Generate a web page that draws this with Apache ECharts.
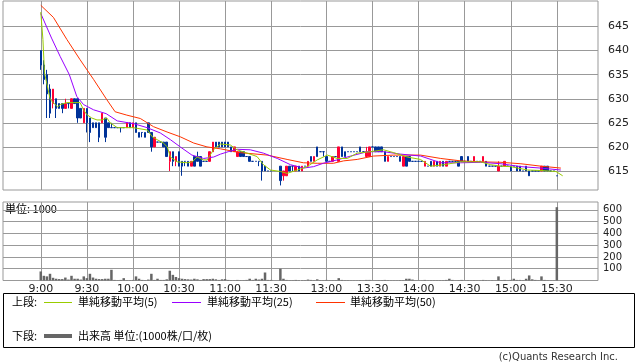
<!DOCTYPE html>
<html><head><meta charset="utf-8">
<script src="https://cdn.jsdelivr.net/npm/echarts@6/dist/echarts.min.js"></script>
<style>html,body{margin:0;padding:0;background:#fff}#c{width:638px;height:362px}</style>
</head><body><div id="c"></div>
<script>
// ---- data (2-minute slots; 9:00 = slot 0, 12:30 = slot 78) ----
const timeLabels = ['9:00','9:30','10:00','10:30','11:00','11:30','13:00','13:30','14:00','14:30','15:00','15:30'];
const timeLabelSlots = [0,15,30,45,60,75,93,108,123,138,153,168];
const priceTicks = [615,620,625,630,635,640,645];
const volumeTicks = [100,200,300,400,500,600];
const amStartSlot = 0;
const pmStartSlot = 78;
// [open, close, low, high]
const candlesAM = [
[640,637,636,640],[637,634,633,638],[635,631,626,636],[632,627,626,633],[629,632,628,632],
[630,628,626,630],[629,628,628,629],[629,628,627,629],[628,629,628,630],[629,629,628,629],
[628,630,628,630],[630,629,629,630],[630,626,625,630],[628,626,626,628],[625,628,625,628],
[628,625,623,628],[626,623,621,626],[625,624,624,625],[625,624,624,625],[625,622,621,625],
[625,627,625,627],[626,622,621,626],[625,624,624,625],[624,624,624,625],[624,624,624,624],
[624,624,624,624],[624,624,623,624],[624,624,624,624],[624,625,624,625],[625,624,624,625],
[624,625,624,625],[625,623,623,625],[623,622,622,623],[623,623,622,623],[623,622,622,623],
[625,623,623,625],[623,620,619,623],[620,622,620,622],[621,621,621,621],[621,621,621,621],
[621,620,620,621],[621,618,618,621],[617,619,615,619],[619,617,616,619],[617,618,616,618],
[619,616,616,619],[617,616,614,617],[617,617,616,617],[617,616,616,617],[616,617,616,617],
[618,616,616,618],[618,617,617,619],[618,616,616,618],[617,617,617,617],[617,617,617,617],
[617,619,617,619],[619,621,619,621],[621,620,620,621],[621,620,620,621],[621,620,620,621],
[621,620,620,621],[621,620,620,621],[620,619,619,620],[619,620,619,620],[618,619,618,619],
[619,618,618,619],[619,618,618,619],[618,618,618,618],[618,617,617,618],[617,617,617,617],
[617,617,617,617],[617,617,616,617],[617,615,613,617],[616,615,615,616],[615,615,615,615],
[615,615,615,615]
];
const candlesPM = [
[616,613,612,616],[614,615,613,615],[614,616,614,616],[616,615,615,616],[616,616,615,616],
[615,616,615,616],[616,615,615,616],[615,616,615,616],[616,616,616,616],[616,617,616,617],
[618,617,617,618],[617,618,617,618],[620,618,618,620],[619,619,619,619],[619,619,618,619],
[618,617,617,618],[617,617,617,617],[617,618,617,618],[618,618,618,618],[617,620,617,620],
[620,618,618,620],[619,618,618,619],[619,619,619,619],[619,619,619,619],[619,619,619,619],
[619,619,619,619],[620,619,619,620],[619,619,619,619],[618,619,618,620],[618,620,618,620],
[620,620,620,620],[620,619,619,620],[620,619,619,620],[620,619,619,620],[619,617,617,619],
[617,618,617,618],[618,618,618,618],[618,618,618,618],[618,618,618,618],[618,617,617,618],
[616,618,616,618],[618,616,616,618],[618,617,617,618],[617,617,617,617],[617,617,617,617],
[617,617,617,617],[617,617,617,617],[616,617,616,617],[616,616,616,616],[617,616,616,617],
[616,617,616,617],[617,616,616,617],[616,617,616,617],[617,616,616,617],[616,617,616,617],
[617,617,617,617],[617,617,617,617],[617,617,617,617],[617,616,616,617],[618,617,617,618],
[617,617,617,617],[618,617,617,618],[617,617,617,617],[617,618,617,618],[617,617,617,617],
[617,617,617,617],[617,618,617,618],[617,616,616,617],[616,616,616,616],[616,616,616,616],
[616,616,616,616],[615,616,615,617],[616,616,616,616],[616,617,616,617],[616,616,616,616],
[616,615,615,616],[616,616,616,616],[616,615,615,616],[616,615,615,616],[615,615,615,615],
[616,615,615,616],[615,614,614,615],[615,615,615,615],[615,615,615,615],[615,615,615,615],
[615,616,615,616],[616,615,615,616],[616,615,615,616],[615,615,615,615],[615,615,615,615],
[614,614,614,614]
];
// volume in 1000 shares
const volumeAM = [77,40,35,57,23,15,12,12,25,8, 40,15,15,8,35,20,57,25,15,12,
 12,15,15,91,5,3,5,20,3,3, 5,35,15,5,3,8,57,5,15,5, 5,10,83,48,30,20,15,12,10,8,
 15,10,5,12,12,12,15,10,5,10, 12,5,3,3,5,3,3,5,15,5, 15,8,15,68,5,5];
const volumePM = [100,15,5,3,3,5,3,3,3,8, 5,3,10,3,3,5,3,3,3,20, 5,3,3,2,2,2,3,2,5,5,
 2,2,3,3,5,3,2,2,2,3, 3,15,15,8,2,2,2,5,2,3, 3,3,3,3,5,15,5,2,3,5,
 2,3,2,3,2,2,5,3,2,3, 2,35,3,5,2,5,15,5,5,3, 15,43,10,5,3,35,5,3,2,2, 623];
// moving averages [slot, price]
const ma5 = [[0,648],[0.7,642.3],[1.2,635.4],[2.4,631.9],[3.1,629.8],[5.5,628.3],[6.4,628.8],[8.5,629.2],[12.8,629.2],[13.9,627.7],[15,626.7],[16.6,626.0],[18.3,625.6],[19.9,625.6],[21.5,626.0],[22.6,625.0],[24.9,624.0],[30.1,624.0],[34.7,623.5],[36.3,622.1],[37.9,621.5],[39.9,620.8],[41.2,620.0],[42.2,617.9],[44.4,616.9],[47.7,616.7],[49.3,616.9],[50.9,617.9],[52.9,617.3],[54.2,617.3],[56.2,619.4],[58.5,620.6],[61.7,620.4],[63.9,619.4],[67.2,618.7],[70.4,618.0],[72.5,616.3],[74.8,615.2],[78,614.9],[80.2,614.5],[83.5,615.2],[86.7,615.9],[90,617.3],[93.3,618.3],[96.5,617.6],[99.8,617.6],[103,618.7],[107.3,619.0],[111.6,619.4],[114.9,618.8],[119.3,617.9],[123.6,617.4],[126.9,616.0],[131.2,616.3],[136.7,616.9],[143.2,616.9],[146.5,616.3],[149.8,616.0],[153,615.9],[158.5,615.2],[162.8,615.1],[167.7,614.9],[169.9,614.0]];
const ma25 = [[0,647.7],[3.5,642.6],[6.3,638.8],[9.3,635],[11.7,630.5],[13.9,628.8],[17.2,627.7],[21.3,626.9],[24.9,625.4],[30.4,624.8],[34.6,624.0],[38.9,622.9],[42.2,621.5],[45.4,620.0],[49.2,618.3],[53,617.6],[56.3,617.9],[58.5,618.5],[61,619.0],[64,619.5],[68.2,619.4],[72.5,618.7],[77,617.6],[81.3,616.3],[85.5,615.6],[88.8,615.9],[92,616.6],[96.5,617.3],[100.9,618.1],[106.3,619.0],[111.6,619.0],[117.2,618.5],[123.7,618.1],[130.2,616.7],[136.7,616.7],[143.2,616.8],[149.8,616.5],[156.3,615.9],[162.8,615.6],[169.3,615.2]];
const ma50 = [[0,649.4],[4.1,646.9],[8.5,642.3],[12.8,638.1],[17.2,634.0],[21.5,629.8],[24.2,627.3],[28,626.6],[32.4,625.9],[36.7,624.2],[41.1,623.1],[45.4,622.1],[49.8,620.8],[54.1,620.0],[58.5,619.6],[65,618.8],[73.7,618.3],[80.2,617.4],[85.5,616.7],[90,616.6],[95.3,616.6],[98.6,617.1],[103,617.4],[108.3,618.1],[114.9,618.3],[123.6,618.3],[130.2,617.6],[136.7,617.1],[143.2,616.9],[149.8,616.8],[156.3,616.5],[162.8,616.0],[169.3,615.6]];

// ---- build series data ----
const candleData = [];
candlesAM.forEach((c, i) => candleData.push([amStartSlot + i, c[0], c[1], c[2], c[3]]));
candlesPM.forEach((c, i) => candleData.push([pmStartSlot + i, c[0], c[1], c[2], c[3]]));
const volData = [];
volumeAM.forEach((v, i) => volData.push([amStartSlot + i, v]));
volumePM.forEach((v, i) => volData.push([pmStartSlot + i, v]));

const UP = '#ff0033', DOWN = '#003399', GRIDC = '#999999';
const FONT = 'DejaVu Sans, Noto Sans CJK JP, sans-serif';
const JFONT = 'Noto Sans CJK JP, sans-serif';
const XMIN = -12.3, XMAX = 181.4;

function xAxisBase(gi, showLabel) {
  return {
    type: 'value', gridIndex: gi, min: XMIN, max: XMAX,
    axisLine: { show: false },
    axisTick: { show: false, customValues: timeLabelSlots },
    axisLabel: { show: showLabel, customValues: timeLabelSlots, margin: 3, fontSize: 11, color: '#222', fontFamily: FONT,
      formatter: v => { const k = timeLabelSlots.indexOf(Math.round(v)); return k >= 0 ? timeLabels[k] : ''; } },
    splitLine: { show: true, lineStyle: { color: GRIDC, width: 1 } }
  };
}

const chart = echarts.init(document.getElementById('c'), null, { renderer: 'canvas' });
chart.setOption({
  animation: false,
  backgroundColor: '#fff',
  grid: [
    { left: 3, right: 40, top: 1, height: 189, show: true, borderColor: GRIDC, borderWidth: 1, backgroundColor: 'transparent' },
    { left: 3, right: 40, top: 202, height: 78.5, show: true, borderColor: GRIDC, borderWidth: 1, backgroundColor: 'transparent' }
  ],
  xAxis: [xAxisBase(0, false), xAxisBase(1, true)],
  yAxis: [
    { type: 'value', gridIndex: 0, position: 'right', min: 611.05, max: 650.3,
      axisLine: { show: false },
      axisTick: { show: true, length: 5, customValues: priceTicks, lineStyle: { color: GRIDC } },
      axisLabel: { customValues: priceTicks, margin: 10, fontSize: 11, color: '#222', fontFamily: FONT },
      splitLine: { show: true, lineStyle: { color: GRIDC } } },
    { type: 'value', gridIndex: 1, position: 'right', min: 0, max: 667,
      axisLine: { show: false },
      axisTick: { show: true, length: 3, customValues: volumeTicks, lineStyle: { color: GRIDC } },
      axisLabel: { customValues: volumeTicks, margin: 5, fontSize: 10, color: '#222', fontFamily: FONT },
      splitLine: { show: true, lineStyle: { color: GRIDC } } }
  ],
  series: [
    { type: 'candlestick', name: 'price', xAxisIndex: 0, yAxisIndex: 0, data: candleData, barWidth: 2,
      itemStyle: { color: UP, color0: DOWN, borderColor: UP, borderColor0: DOWN, borderColorDoji: DOWN, borderWidth: 1 } },
    { type: 'line', name: '単純移動平均(50)', xAxisIndex: 0, yAxisIndex: 0, data: ma50, showSymbol: false, lineStyle: { color: '#ff3300', width: 1 }, z: 3 },
    { type: 'line', name: '単純移動平均(25)', xAxisIndex: 0, yAxisIndex: 0, data: ma25, showSymbol: false, lineStyle: { color: '#9900ff', width: 1 }, z: 3 },
    { type: 'line', name: '単純移動平均(5)', xAxisIndex: 0, yAxisIndex: 0, data: ma5, showSymbol: false, lineStyle: { color: '#99cc00', width: 1 }, z: 3 },
    { type: 'bar', name: '出来高', xAxisIndex: 1, yAxisIndex: 1, data: volData, barWidth: 2.5, itemStyle: { color: '#666666' } }
  ],
  graphic: [
    { type: 'text', left: 5, top: 203, style: { text: '単位: 1000', font: '11px ' + JFONT, fill: '#000' } },
    { type: 'rect', shape: { x: 3.5, y: 293.5, width: 631, height: 54 }, style: { fill: 'none', stroke: '#000', lineWidth: 1 } },
    { type: 'text', x: 12, y: 302, style: { text: '上段:', font: '11px ' + JFONT, fill: '#000', textVerticalAlign: 'middle' } },
    { type: 'line', shape: { x1: 44, y1: 302.5, x2: 72, y2: 302.5 }, style: { stroke: '#99cc00', lineWidth: 1 } },
    { type: 'text', x: 78, y: 302, style: { text: '単純移動平均(5)', font: '11px ' + JFONT, fill: '#000', textVerticalAlign: 'middle' } },
    { type: 'line', shape: { x1: 172, y1: 302.5, x2: 201, y2: 302.5 }, style: { stroke: '#9900ff', lineWidth: 1 } },
    { type: 'text', x: 207, y: 302, style: { text: '単純移動平均(25)', font: '11px ' + JFONT, fill: '#000', textVerticalAlign: 'middle' } },
    { type: 'line', shape: { x1: 316, y1: 302.5, x2: 345, y2: 302.5 }, style: { stroke: '#ff3300', lineWidth: 1 } },
    { type: 'text', x: 350, y: 302, style: { text: '単純移動平均(50)', font: '11px ' + JFONT, fill: '#000', textVerticalAlign: 'middle' } },
    { type: 'text', x: 12, y: 336, style: { text: '下段:', font: '11px ' + JFONT, fill: '#000', textVerticalAlign: 'middle' } },
    { type: 'line', shape: { x1: 44, y1: 336, x2: 72, y2: 336 }, style: { stroke: '#666666', lineWidth: 4 } },
    { type: 'text', x: 78, y: 336, style: { text: '出来高 単位:(1000株/口/枚)', font: '11px ' + JFONT, fill: '#000', textVerticalAlign: 'middle' } },
    { type: 'text', x: 618, y: 357, style: { text: '(c)Quants Research Inc.', font: '10px ' + FONT, fill: '#333', textAlign: 'right', textVerticalAlign: 'middle' } }
  ]
});
</script>
</body></html>
